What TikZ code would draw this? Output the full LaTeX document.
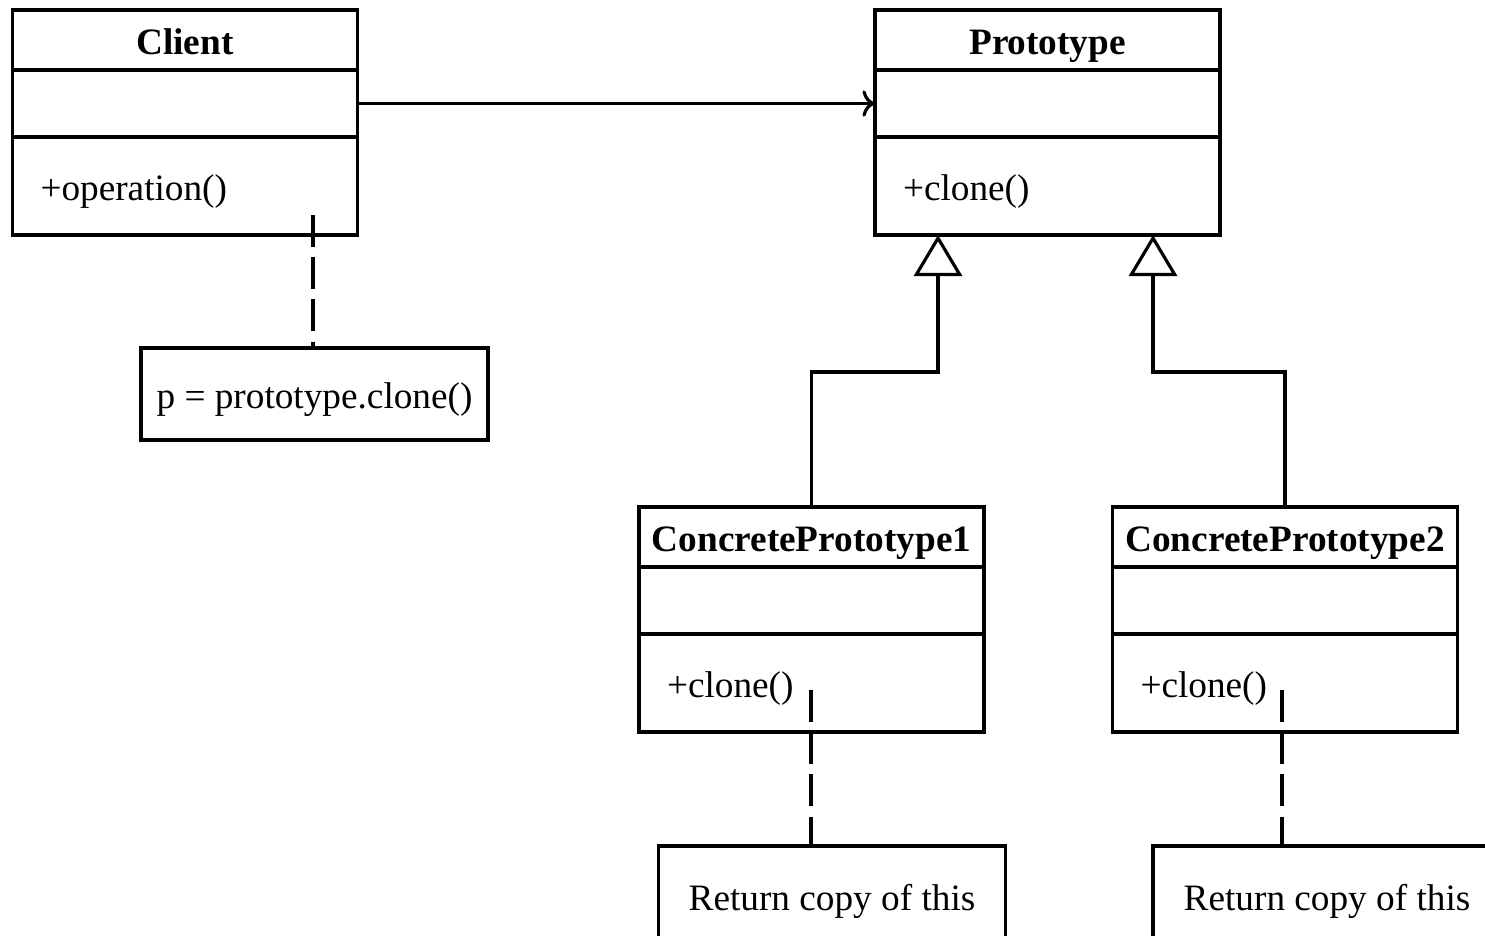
\documentclass[tikz,border=0pt]{standalone}
\usepackage{fontspec}
\setmainfont{Liberation Serif}
\usetikzlibrary{positioning,arrows.meta}
\tikzset{d/.style={line width=0.9pt}}

\begin{document}
\begin{tikzpicture}[
d,
every node/.style={font=\fontsize{10.6}{13}\selectfont, outer sep=0pt, text height=0.95em, text depth=0.1em},
classtitle/.style={draw, d, minimum width=3.45cm, minimum height=0.6cm, inner sep=0pt, font=\fontsize{10.6}{13}\selectfont\bfseries},
classattr/.style={draw, d, minimum width=3.45cm, minimum height=0.67cm, inner sep=0pt},
classops/.style={draw, d, text width=2.89cm, inner xsep=0.28cm, inner ysep=0pt, minimum height=0.98cm, align=left},
notebox/.style={draw, d, minimum width=3.47cm, minimum height=0.92cm, inner sep=0pt},
inherit/.style={d, -{Triangle[open,length=4.1mm,width=4.8mm]}},
notelink/.style={d, dash pattern=on 9pt off 3pt},
]
\useasboundingbox (0,0) rectangle (14.85,-9.35);
\clip (0,0) rectangle (14.85,-9.35);

%Classes
\node[classtitle] (clienttitle) at (1.85,-0.40) {Client};
\node[classattr]  (clientattr)  [below=0pt of clienttitle] {};
\node[classops]   (clientops)   [below=0pt of clientattr] {+operation()};

\node[classtitle] (prototitle) at (10.475,-0.40) {Prototype};
\node[classattr]  (protoattr)  [below=0pt of prototitle] {};
\node[classops]   (protoops)   [below=0pt of protoattr] {+clone()};

\node[classtitle] (cp1title) at (8.115,-5.37) {ConcretePrototype1};
\node[classattr]  (cp1attr)  [below=0pt of cp1title] {};
\node[classops]   (cp1ops)   [below=0pt of cp1attr] {+clone()};

\node[classtitle] (cp2title) at (12.85,-5.37) {ConcretePrototype2};
\node[classattr]  (cp2attr)  [below=0pt of cp2title] {};
\node[classops]   (cp2ops)   [below=0pt of cp2attr] {+clone()};

%Notes
\node[notebox] (clientnote) at (3.145,-3.94) {p = prototype.clone()};
\node[notebox, minimum height=1.0cm] (cp1note) at (8.32,-8.96) {Return copy of this};
\node[notebox, minimum height=1.0cm, minimum width=3.48cm] (cp2note) at (13.27,-8.96) {Return copy of this};

\coordinate (bend1) at (9.38,-3.72);
\coordinate (bend2) at (11.53,-3.72);
\coordinate (clientdot) at (3.13,-2.15);
\coordinate (cp1dot) at (8.11,-6.90);
\coordinate (cp2dot) at (12.82,-6.90);

%Lines
\draw[->] (clientattr.east) -- (protoattr.west);
\draw[inherit] (cp1title.north) |- (bend1) -- (bend1 |- protoops.south);
\draw[inherit] (cp2title.north) |- (bend2) -- (bend2 |- protoops.south);

\draw[notelink] (clientdot) -- (clientdot |- clientnote.north);
\draw[notelink] (cp1dot) -- (cp1dot |- cp1note.north);
\draw[notelink] (cp2dot) -- (cp2dot |- cp2note.north);
\end{tikzpicture}
\end{document}
